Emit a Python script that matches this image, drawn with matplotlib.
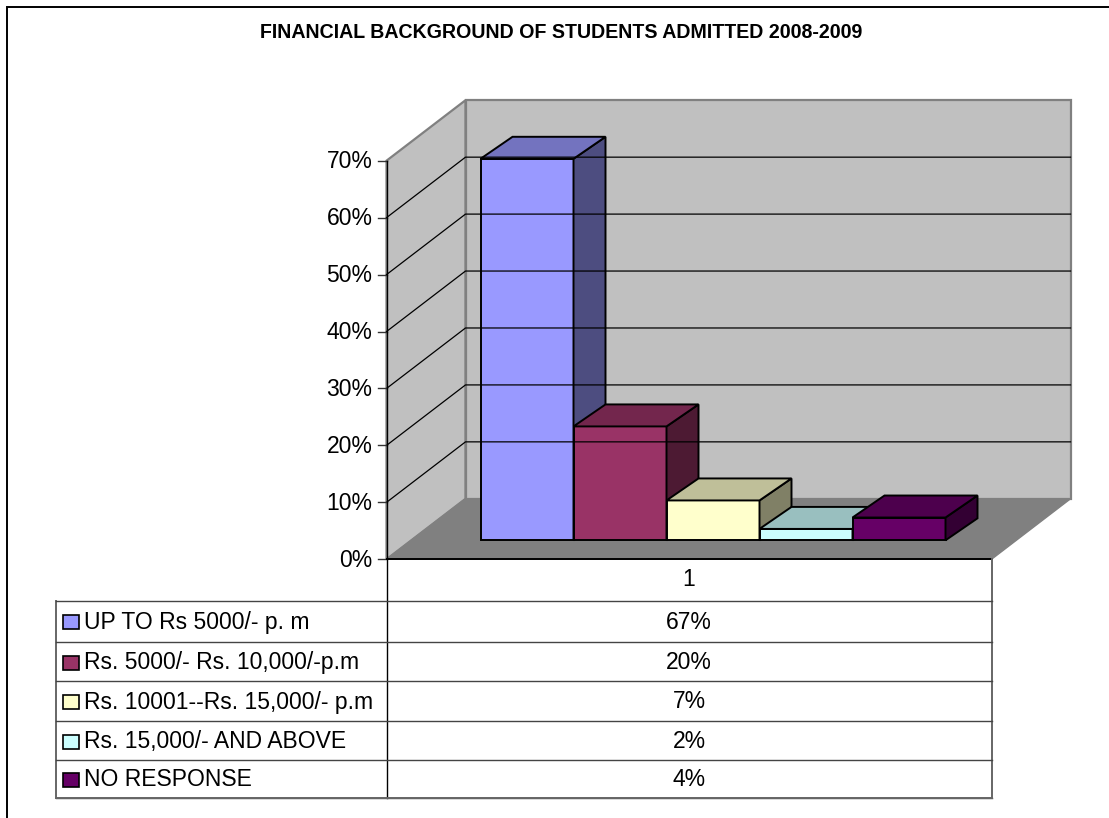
"""Financial background of admitted students: oblique 3D column chart with data table."""

import matplotlib

matplotlib.use("Agg")
import matplotlib.pyplot as plt
from matplotlib.patches import Polygon, Rectangle

plt.rcParams["font.family"] = ["Liberation Sans", "DejaVu Sans"]

TITLE = "FINANCIAL BACKGROUND OF STUDENTS ADMITTED 2008-2009"
CATEGORIES = [
    "UP TO Rs 5000/- p. m",
    "Rs. 5000/- Rs. 10,000/-p.m",
    "Rs. 10001--Rs. 15,000/- p.m",
    "Rs. 15,000/- AND ABOVE",
    "NO RESPONSE",
]
VALUES = [67, 20, 7, 2, 4]
VALUE_LABELS = ["67%", "20%", "7%", "2%", "4%"]
Y_TICKS = [0, 10, 20, 30, 40, 50, 60, 70]
COLUMN_LABEL = "1"
COLORS = ["#9999FF", "#993366", "#FFFFCC", "#CCFFFF", "#660066"]

# chart geometry in image pixels
W, H = 1109, 818
FRONT_L, FRONT_R = 386.5, 991.5
ZERO_Y, PX_PER_PCT = 559.3, 5.694
DEPTH_DX, DEPTH_DY = 79.0, -60.5
BAR_L, BAR_W = 480.5, 93.0
BAR_BASE_Y, BAR_DX, BAR_DY = 540.3, 32.0, -22.0
TABLE_L, TABLE_TOP = 55.5, 600.5
ROW_Y = [600.7, 642, 681, 721, 760, 798]


def val_y(pct):
    return ZERO_Y - pct * PX_PER_PCT


def shade(hex_color, k):
    rgb = matplotlib.colors.to_rgb(hex_color)
    return tuple(c * k for c in rgb)


def draw_bar(ax, left, pct, color):
    right = left + BAR_W
    top = BAR_BASE_Y - pct * PX_PER_PCT
    kw = dict(edgecolor="black", lw=1.4, joinstyle="miter")
    ax.add_patch(Polygon([(left, BAR_BASE_Y), (right, BAR_BASE_Y), (right, top), (left, top)],
                         facecolor=color, **kw))
    ax.add_patch(Polygon([(right, BAR_BASE_Y), (right + BAR_DX, BAR_BASE_Y + BAR_DY),
                          (right + BAR_DX, top + BAR_DY), (right, top)],
                         facecolor=shade(color, 0.5), **kw))
    ax.add_patch(Polygon([(left, top), (right, top), (right + BAR_DX, top + BAR_DY),
                          (left + BAR_DX, top + BAR_DY)],
                         facecolor=shade(color, 0.75), **kw))


fig = plt.figure(figsize=(W / 100, H / 100), dpi=100)
ax = fig.add_axes([0, 0, 1, 1])
ax.set_xlim(0, W)
ax.set_ylim(H, 0)
ax.axis("off")

# outer frame, cut off by the right and bottom image edges
ax.plot([7, 7, W], [H, 7, 7], color="black", lw=1.4, solid_joinstyle="miter")

ax.text(561, 33, TITLE, ha="center", va="center", fontsize=14.1, fontweight="bold")

# walls and floor
top_y = val_y(70)
back_l = FRONT_L + DEPTH_DX
back_r = FRONT_R + DEPTH_DX
wall = dict(facecolor="#C0C0C0", edgecolor="#808080", lw=1.6)
ax.add_patch(Polygon([(FRONT_L, ZERO_Y), (back_l, ZERO_Y + DEPTH_DY),
                      (back_l, top_y + DEPTH_DY), (FRONT_L, top_y)], **wall))
ax.add_patch(Polygon([(back_l, ZERO_Y + DEPTH_DY), (back_r, ZERO_Y + DEPTH_DY),
                      (back_r, top_y + DEPTH_DY), (back_l, top_y + DEPTH_DY)], **wall))
ax.add_patch(Polygon([(FRONT_L, ZERO_Y), (back_l, ZERO_Y + DEPTH_DY),
                      (back_r, ZERO_Y + DEPTH_DY), (FRONT_R, ZERO_Y)],
                     facecolor="#808080", edgecolor="#808080", lw=1.0))

# gridlines and ticks
for t in Y_TICKS:
    y = val_y(t)
    if 0 < t < 70:
        ax.plot([FRONT_L, back_l, back_r], [y, y + DEPTH_DY, y + DEPTH_DY], color="black", lw=0.9)
    ax.plot([378, FRONT_L], [y, y], color="#333333", lw=1.0)
    ax.text(372.5, y + 1, f"{t}%", ha="right", va="center", fontsize=16.5)

for i, (v, c) in enumerate(zip(VALUES, COLORS)):
    draw_bar(ax, BAR_L + i * BAR_W, v, c)

# data table
line = dict(color="#444444", lw=1.0)
ax.plot([FRONT_L, FRONT_R], [ZERO_Y, ZERO_Y], color="black", lw=1.4)
ax.plot([FRONT_L, FRONT_L], [top_y, ROW_Y[-1]], color="black", lw=1.0)
ax.plot([FRONT_R, FRONT_R], [ZERO_Y, ROW_Y[-1]], color="#666666", lw=1.4)
ax.plot([TABLE_L, TABLE_L], [ROW_Y[0], ROW_Y[-1]], color="#666666", lw=1.4)
for y in ROW_Y:
    ax.plot([TABLE_L, FRONT_R], [y, y], **line)
ax.plot([TABLE_L, FRONT_R], [ROW_Y[-1], ROW_Y[-1]], color="#666666", lw=1.4)
ax.text((FRONT_L + FRONT_R) / 2, 580, COLUMN_LABEL, ha="center", va="center", fontsize=16.5)
for i, (name, lab, c) in enumerate(zip(CATEGORIES, VALUE_LABELS, COLORS)):
    cy = (ROW_Y[i] + ROW_Y[i + 1]) / 2 + 1
    ax.add_patch(Rectangle((63, cy - 7), 15.5, 14, facecolor=c, edgecolor="black", lw=1.2))
    ax.text(84, cy, name, ha="left", va="center", fontsize=16.5)
    ax.text((FRONT_L + FRONT_R) / 2, cy, lab, ha="center", va="center", fontsize=16.5)

fig.savefig("out.png", dpi=100)
